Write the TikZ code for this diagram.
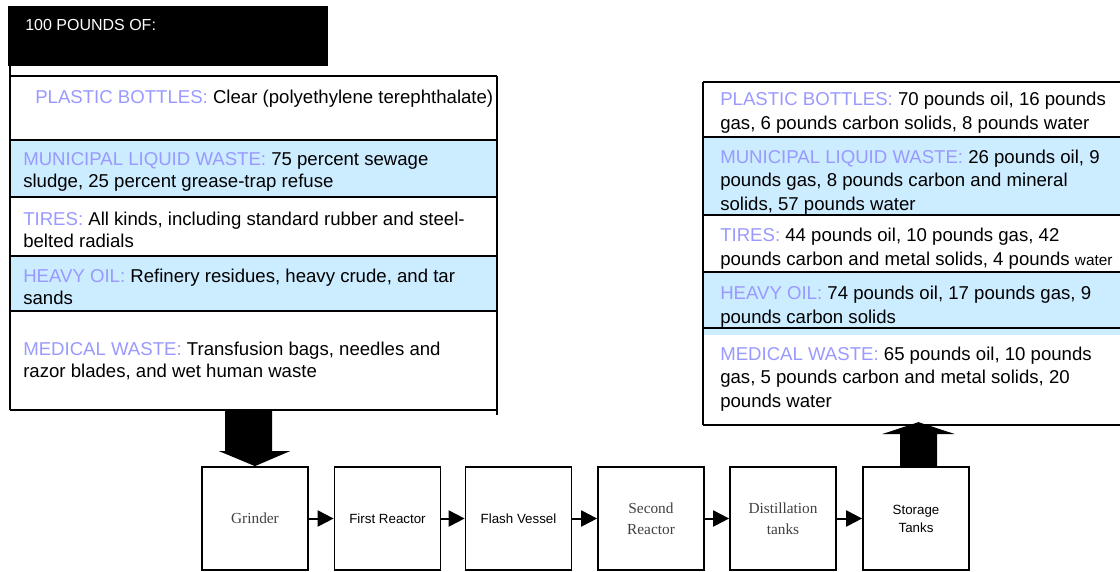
\documentclass[tikz,border=0pt]{standalone}
\usepackage{fontspec}
\setmainfont{Liberation Sans}
\newfontfamily\boxserif{Liberation Serif}
\usetikzlibrary{arrows.meta}

\definecolor{catblue}{RGB}{153,153,255}
\definecolor{rowfill}{RGB}{204,236,255}
\definecolor{serifgray}{RGB}{64,64,64}
\newcommand{\cat}[1]{\textcolor{catblue}{#1}}

\tikzset{
  stage/.style={draw, line width=1.3pt, minimum width=79.5pt,
    minimum height=77.25pt, inner sep=0pt, align=center,
    font=\fontsize{10}{13.5}\selectfont},
  sstage/.style={stage, text=serifgray,
    font=\boxserif\fontsize{11.5}{15.75}\selectfont},
  flow/.style={line width=1.5pt, -{Triangle[length=12pt,width=12pt]}},
  lrow/.style={anchor=base west, inner sep=0pt, align=left,
    font=\fontsize{13.95}{16.8}\selectfont},
  rrow/.style={lrow, font=\fontsize{13.95}{17.8}\selectfont},
  rule/.style={line width=1.5pt},
}

\begin{document}
\begin{tikzpicture}
  [x=0.75pt,y=-0.75pt]
  \useasboundingbox (0,0) rectangle (1120,571);

  % input side (nodes sit on the baseline of their last line)
  \fill (8,6) rectangle (328,66);
  \node[anchor=base west, inner sep=0pt, text=white,
    font=\fontsize{12}{14}\selectfont] (hdr) at (25,31) {100 POUNDS OF:};
  \fill[rowfill] (10,139) rectangle (497,197);
  \fill[rowfill] (10,255) rectangle (497,311);
  \foreach \y in {76,140,197,256,311,410} {
    \draw[rule] (10,\y) -- (497,\y);
  }
  \draw[rule] (10,66) -- (10,410);
  \draw[rule] (497,76) -- (497,415);

  \node[lrow] (inPB) at (35,103)
    {\cat{PLASTIC BOTTLES:} Clear (polyethylene terephthalate)};
  \node[lrow] (inMW) at (23,187.4)
    {\cat{MUNICIPAL LIQUID WASTE:} 75 percent sewage\\
     sludge, 25 percent grease-trap refuse};
  \node[lrow] (inTI) at (23,247.4)
    {\cat{TIRES:} All kinds, including standard rubber and steel-\\
     belted radials};
  \node[lrow] (inHO) at (23,304.4)
    {\cat{HEAVY OIL:} Refinery residues, heavy crude, and tar\\
     sands};
  \node[lrow] (inMD) at (23,377.4)
    {\cat{MEDICAL WASTE:} Transfusion bags, needles and\\
     razor blades, and wet human waste};

  % output side
  \fill[rowfill] (703,137) rectangle (1120,215);
  \fill[rowfill] (703,272) rectangle (1120,335);
  \foreach \y in {82,137,215,272,328,425} {
    \draw[rule] (703,\y) -- (1120,\y);
  }
  \draw[rule] (703,82) -- (703,425);

  \node[rrow] (outPB) at (720,129.7)
    {\cat{PLASTIC BOTTLES:} 70 pounds oil, 16 pounds\\
     gas, 6 pounds carbon solids, 8 pounds water};
  \node[rrow] (outMW) at (720,210.5)
    {\cat{MUNICIPAL LIQUID WASTE:} 26 pounds oil, 9\\
     pounds gas, 8 pounds carbon and mineral\\
     solids, 57 pounds water};
  \node[rrow] (outTI) at (720,265.7)
    {\cat{TIRES:} 44 pounds oil, 10 pounds gas, 42\\
     pounds carbon and metal solids, 4 pounds {\fontsize{11.5}{14}\selectfont water}};
  \node[rrow] (outHO) at (720,323.7)
    {\cat{HEAVY OIL:} 74 pounds oil, 17 pounds gas, 9\\
     pounds carbon solids};
  \node[rrow] (outMD) at (720,407.5)
    {\cat{MEDICAL WASTE:} 65 pounds oil, 10 pounds\\
     gas, 5 pounds carbon and metal solids, 20\\
     pounds water};

  % process line
  \node[sstage] (grinder) at (255,518.5) {Grinder};
  \node[stage] (reactA) at (387.5,518.5) {First Reactor};
  \node[stage] (flash) at (518.5,518.5) {Flash Vessel};
  \node[sstage] (reactB) at (651,518.5) {Second\\Reactor};
  \node[sstage] (still) at (783,518.5) {Distillation\\tanks};
  \node[stage] (store) at (916,518.5) {Storage\\Tanks};

  \draw[flow] (grinder) -- (reactA);
  \draw[flow] (reactA) -- (flash);
  \draw[flow] (flash) -- (reactB);
  \draw[flow] (reactB) -- (still);
  \draw[flow] (still) -- (store);

  % block arrows
  \fill (grinder.north) -- ++(-36,-15) -- ++(6,0) -- ++(0,-42)
    -- ++(47,0) -- ++(0,42) -- ++(18,0) -- cycle;
  \fill (store.north) ++(-16,0) -- ++(0,-32) -- ++(-18,0) -- ++(36.5,-12)
    -- ++(36.5,12) -- ++(-18,0) -- ++(0,32) -- cycle;
\end{tikzpicture}
\end{document}
